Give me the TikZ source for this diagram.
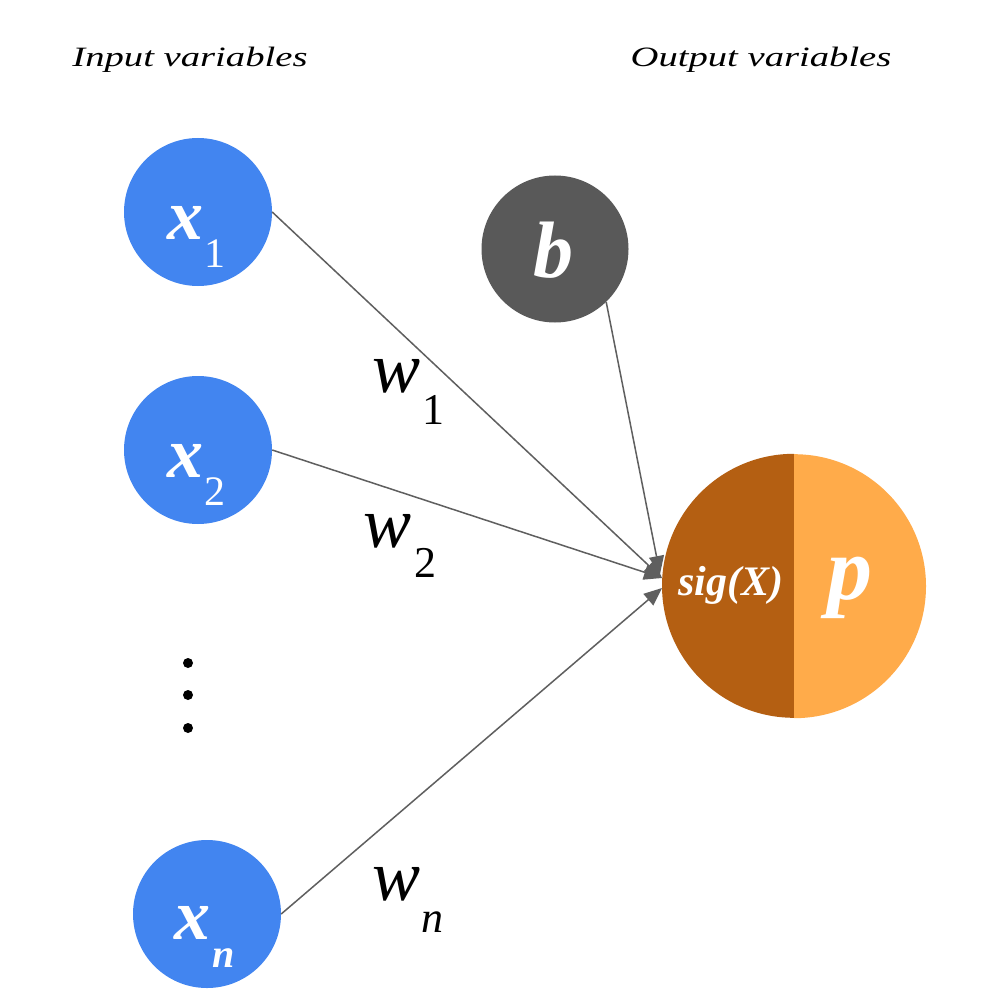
\documentclass[tikz,border=0pt]{standalone}
\usepackage{fontspec}
\setmainfont{Liberation Serif}
\usetikzlibrary{arrows.meta}
\definecolor{inblue}{HTML}{4285F0}
\definecolor{biasgray}{HTML}{595959}
\definecolor{darkorange}{HTML}{B45F12}
\definecolor{lightorange}{HTML}{FFAB4A}
\definecolor{linegray}{HTML}{5F5F5F}
\newcommand{\fsz}[1]{\fontsize{#1}{#1}\selectfont}
\tikzset{
  inp/.style={circle, fill=inblue, minimum size=148pt, inner sep=0pt},
  bias/.style={circle, fill=biasgray, minimum size=147pt, inner sep=0pt},
  lbl/.style={inner sep=0pt, anchor=center},
  wlbl/.style={lbl, font=\fsz{72}\itshape},
  wsub/.style={lbl, font=\fsz{44}},
  xlbl/.style={lbl, text=white, font=\fsz{72}\bfseries\itshape},
  xsub/.style={lbl, text=white, font=\fsz{42}},
  head/.style={lbl, font=\fsz{28}\itshape},
  conn/.style={draw=linegray, line width=1.5pt, -{Triangle[length=18pt,width=15pt]}},
  dotmark/.style={circle, fill=black, minimum size=10pt, inner sep=0pt}
}
\begin{document}
\begin{tikzpicture}[x=1pt,y=-1pt]
\path[use as bounding box, fill=white] (0,0) rectangle (996,1008);

% headings
\node[head] (hin) at (190,60) {\scalebox{1.38}[1]{Input variables}};
\node[head] (hout) at (761,60) {\scalebox{1.38}[1]{Output variables}};

% input nodes
\node[inp] (x1) at (198,212) {};
\node[inp] (x2) at (198,450) {};
\node[inp] (xn) at (207,914) {};
\node[bias] (b) at (555,249) {};

\node[xlbl] (x1t) at (185,223) {x};
\node[xsub] (x1s) at (215,254) {1};
\node[xlbl] (x2t) at (185,461) {x};
\node[xsub] (x2s) at (215,492) {2};
\node[xlbl] (xnt) at (192,923) {x};
\node[xsub, font=\fsz{40}\bfseries\itshape] (xns) at (224,958) {n};
\node[lbl, text=white, font=\fsz{80}\bfseries\itshape] (bt) at (553,250) {b};

% dots
\node[dotmark] (d1) at (188,663) {};
\node[dotmark] (d2) at (188,695) {};
\node[dotmark] (d3) at (188,728) {};

% output node
\node[circle, minimum size=264pt, inner sep=0pt] (out) at (794,586) {};
\fill[darkorange] (out.north) arc[start angle=90, end angle=270, radius=132pt] -- cycle;
\fill[lightorange] (out.south) arc[start angle=-90, end angle=90, radius=132pt] -- cycle;
\node[lbl, text=white, font=\fsz{42}\bfseries\itshape] (sig) at (731,585) {sig(X)};
\node[lbl, text=white, font=\fsz{90}\bfseries\itshape] (p) at (850,588) {p};

% connectors
\coordinate (tipa) at (662,578);
\coordinate (tipb) at (660,574);
\coordinate (tipn) at (662,588);
\draw[conn] (x1.east) -- (tipa);
\draw[conn] (x2.east) -- (tipa);
\draw[conn] (xn.east) -- (tipn);
\draw[conn] (b.-46) -- (tipb);

% weights
\node[wlbl] (w1) at (397,376) {w};
\node[wsub] (w1s) at (433,410) {1};
\node[wlbl] (w2) at (388,531) {w};
\node[wsub] (w2s) at (425,563) {2};
\node[wlbl] (wn) at (397,884) {w};
\node[wsub, font=\fsz{44}\itshape] (wns) at (432,922) {n};
\end{tikzpicture}
\end{document}
